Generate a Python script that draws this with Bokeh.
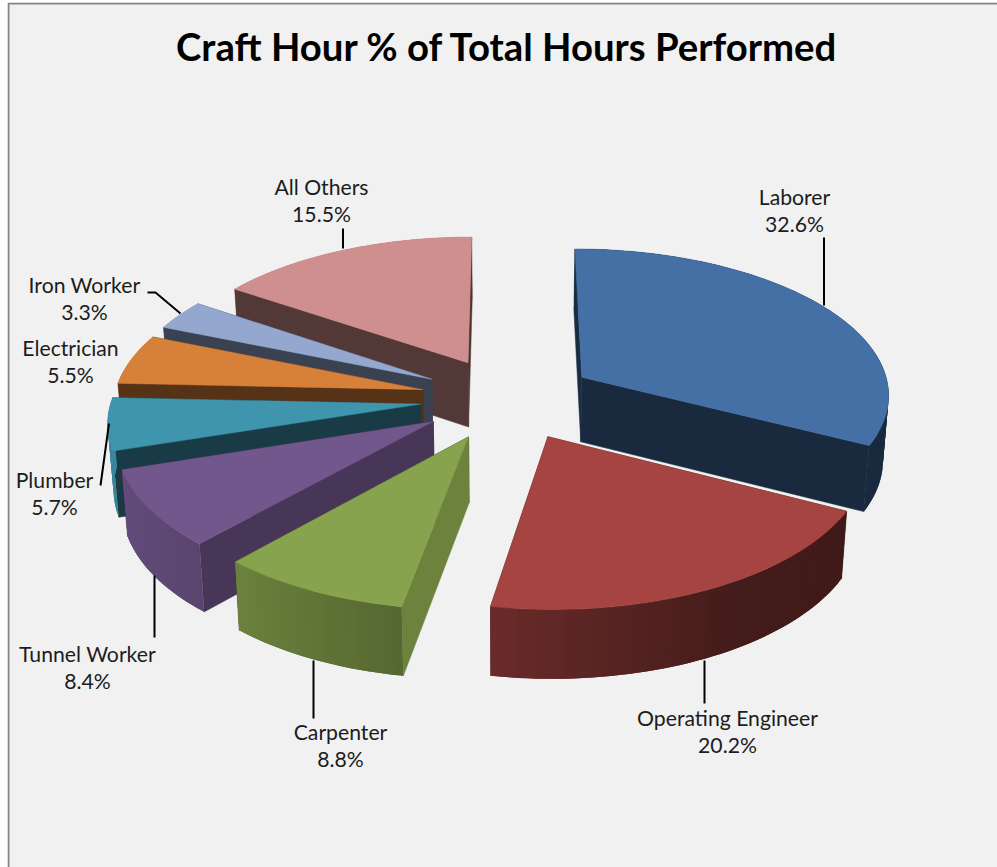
import numpy as np
from bokeh.plotting import figure
from bokeh.models import Range1d
from bokeh.core.properties import value
from bokeh.embed import file_html
from bokeh.resources import INLINE

# ---- data ----
crafts = ["Laborer", "Operating Engineer", "Carpenter", "Tunnel Worker",
          "Plumber", "Electrician", "Iron Worker", "All Others"]
percent = [32.6, 20.2, 8.8, 8.4, 5.7, 5.5, 3.3, 15.5]
title_text = "Craft Hour % of Total Hours Performed"

# ---- style ----
top_colors = ["#4470a5", "#a54441", "#87a34d", "#71578c",
              "#4095ae", "#d7803a", "#93a7cf", "#cf8f8e"]
start_wall_shade = [0.40, 0.40, 0.80, 0.63, 0.40, 0.40, 0.40, 0.40]
label_centres = [(794, 196), (727, 717), (340, 731), (87, 653),
                 (54, 479), (70, 347), (84, 284), (321, 186)]
leaders = [([823.5, 823.5], [237, 305]), ([704, 704], [660, 703]),
           ([313, 313], [660, 718]), ([154, 154], [575, 637]),
           ([100, 108.5], [485, 423]), ([], []),
           ([147, 155, 180], [292, 292, 313]), ([342.5, 342.5], [228, 248])]

# ---- projection of the exploded pie ----
CX, CY = 507.5, 398.0
AX, AY = 309.0, 146.0
K = 0.105
EXPLODE = 0.284
DEPTH = 65.0
BOTTOM_SCALE = 0.985


def project(X, Y):
    w = 1.0 / (1.0 + K * Y)
    return CX + AX * X * w, CY - AY * Y * w


def drop(X, Y):
    x, y = project(X, Y)
    return CX + (x - CX) * BOTTOM_SCALE, y + DEPTH / (1.0 + 0.05 * Y)


def mix(hex_color, f):
    r, g, b = (int(hex_color[i:i + 2], 16) for i in (1, 3, 5))
    return "#%02x%02x%02x" % (int(r * f), int(g * f), int(b * f))


def rim_shade(deg):
    return float(np.interp(deg, [117, 150, 190, 222, 260, 300],
                           [0.38, 0.42, 0.64, 0.80, 0.90, 0.92]))


def draw_rim(fig, tx, ty, bx, by, degs, col, idx):
    """Overlapping narrow bands, so that no seam shows through the gradient."""
    if len(idx) == 0:
        return
    xs, ys, cs = [], [], []
    for j in idx:
        k = min(j + 2, len(tx) - 1)
        xs.append([tx[j], tx[j + 1], tx[k], bx[k], bx[j + 1], bx[j]])
        ys.append([ty[j], ty[j + 1], ty[k], by[k], by[j + 1], by[j]])
        cs.append(mix(col, rim_shade((degs[j] + degs[j + 1]) / 2)))
    fig.patches(xs, ys, fill_color=cs, line_color=None)


p = figure(width=990, height=865, x_range=Range1d(7, 997), y_range=Range1d(867, 2),
           toolbar_location=None, output_backend="svg", min_border=0,
           background_fill_color="#f1f1f1", border_fill_color="#f1f1f1",
           outline_line_color=None)
p.styles = {"position": "absolute", "left": "7px", "top": "2px"}
p.xaxis.visible = False
p.yaxis.visible = False
p.xgrid.visible = False
p.ygrid.visible = False

# frame of the chart area
p.line([8, 8, 997], [867, 3, 3], line_color="#868686", line_width=2)

edges = np.concatenate([[0.0], np.cumsum(percent)]) * 3.6
slices = []
for i, col in enumerate(top_colors):
    s, e = edges[i], edges[i + 1]
    b = np.radians((s + e) / 2)
    ox, oy = EXPLODE * np.sin(b), EXPLODE * np.cos(b)
    slices.append((np.cos(b), i, s, e, ox, oy, col))

# painter's order: farthest slice first
for _, i, s, e, ox, oy, col in sorted(slices, key=lambda t: -t[0]):
    n = max(8, int((e - s) / 1.5))
    th = np.radians(np.linspace(s, e, n + 1))
    RX, RY = ox + np.sin(th), oy + np.cos(th)
    tx, ty = project(RX, RY)
    bx, by = drop(RX, RY)
    ax, ay = project(ox, oy)
    abx, aby = drop(ox, oy)
    degs = np.degrees(th)
    mids = (degs[:-1] + degs[1:]) / 2
    facing_back = np.cos(np.radians(mids)) > 0

    # rim on the far side, behind the radial walls
    draw_rim(p, tx, ty, bx, by, degs, col, np.nonzero(facing_back)[0])

    # radial walls
    end_col = mix(col, 0.38)
    p.patch([tx[-1], ax, abx, bx[-1]], [ty[-1], ay, aby, by[-1]],
            fill_color=end_col, line_color=end_col, line_width=0.5)
    start_col = mix(col, start_wall_shade[i])
    p.patch([tx[0], ax, abx, bx[0]], [ty[0], ay, aby, by[0]],
            fill_color=start_col, line_color=start_col, line_width=0.5)

    # rim on the near side
    draw_rim(p, tx, ty, bx, by, degs, col, np.nonzero(~facing_back)[0])

    # top face
    p.patch(np.concatenate([[ax], tx]), np.concatenate([[ay], ty]),
            fill_color=col, line_color=col, line_width=0.5)

# leader lines
for lx, ly in leaders:
    if lx:
        p.line(lx, ly, line_color="#000000", line_width=2)

# labels
for name, pct, (lx, ly) in zip(crafts, percent, label_centres):
    p.text([lx, lx], [ly, ly + 27], text=[name, f"{pct:.1f}%"],
           text_font=value("Lato"), text_font_size="21.2px", text_color="#1c1c1c",
           text_align="center", text_baseline="middle")

p.text([507], [45], text=[title_text], text_font=value("Lato"), text_font_style="bold",
       text_font_size="38.3px", text_color="#000000", text_align="center",
       text_baseline="middle")

open("out.html", "w").write(file_html(p, INLINE))
